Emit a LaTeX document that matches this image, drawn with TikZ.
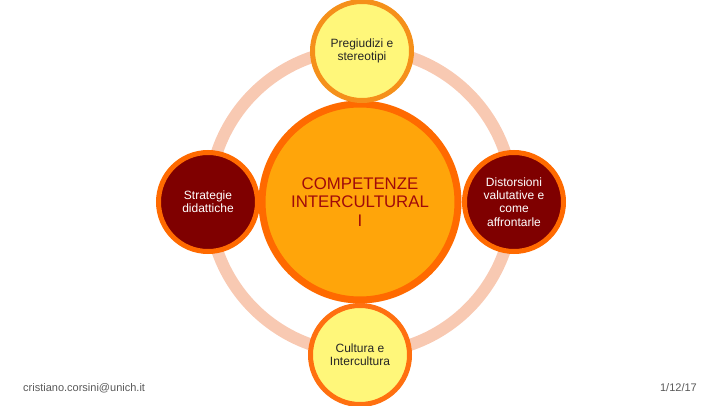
\documentclass[tikz,border=0pt]{standalone}
\usepackage{fontspec}
\setmainfont{Liberation Sans}
\definecolor{ringc}{HTML}{F8C9B2}
\definecolor{centfill}{HTML}{FFA50A}
\definecolor{centline}{HTML}{FF6A00}
\definecolor{yelfill}{HTML}{FFF77A}
\definecolor{yelline}{HTML}{F5901A}
\definecolor{yelline2}{HTML}{FF7010}
\definecolor{redfill}{HTML}{7F0000}
\definecolor{redline}{HTML}{FF6A00}
\definecolor{centtext}{HTML}{A00A0A}
\definecolor{foot}{HTML}{595959}
\tikzset{
  sat/.style={circle, minimum size=99pt, inner sep=0pt, line width=5pt, align=center, font=\fontsize{12}{13.2}\selectfont},
  yel/.style={sat, fill=yelfill, draw=yelline, text=black!85},
  red/.style={sat, fill=redfill, draw=redline, text=white},
  cent/.style={circle, minimum size=196pt, inner sep=0pt, line width=7pt, fill=centfill, draw=centline, text=centtext, align=center, font=\fontsize{16.8}{18.3}\selectfont},
  foottext/.style={font=\fontsize{11}{12}\selectfont, text=foot, inner sep=0pt}
}
\begin{document}
\begin{tikzpicture}[x=1pt,y=1pt]
\useasboundingbox (0,0) rectangle (720,405);
\coordinate (o) at (361,204);
\draw[ringc, line width=12pt] (o) circle (152);
\node[cent] (c) at (360,203) {COMPETENZE\\INTERCULTURAL\\I};
\node[yel] (top) at (362,354) {Pregiudizi e\\stereotipi};
\node[yel, draw=yelline2] (bot) at (360,50) {Cultura e\\Intercultura};
\node[red] (left) at (208,203) {Strategie\\didattiche};
\node[red] (right) at (514,203) {Distorsioni\\valutative e\\come\\affrontarle};
\node[foottext, anchor=west] (mail) at (23,17) {cristiano.corsini@unich.it};
\node[foottext, anchor=east] (date) at (697,17) {1/12/17};
\end{tikzpicture}
\end{document}
